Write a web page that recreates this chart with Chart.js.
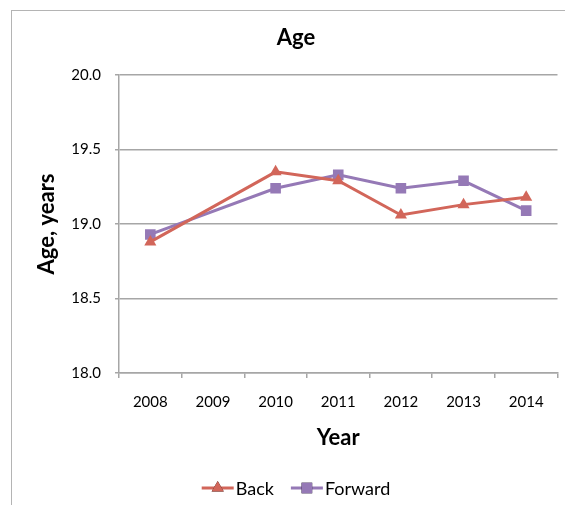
<!DOCTYPE html>
<html>
<head>
<meta charset="utf-8">
<script src="https://cdn.jsdelivr.net/npm/chart.js@4/dist/chart.umd.min.js"></script>
<style>
  html, body { margin: 0; padding: 0; background: #fff; }
  #wrap { width: 565px; height: 505px; }
</style>
</head>
<body>
<div id="wrap"><canvas id="c" width="565" height="505"></canvas></div>
<script>
// Mean age by survey year
const years = ['2008', '2009', '2010', '2011', '2012', '2013', '2014'];
const backAge = [18.88, null, 19.35, 19.29, 19.06, 19.13, 19.18];
const forwardAge = [18.93, null, 19.24, 19.33, 19.24, 19.29, 19.09];
const seriesNames = ['Back', 'Forward'];
const yTickValues = [18.0, 18.5, 19.0, 19.5, 20.0];

const chartTitle = 'Age';
const xTitle = 'Year';
const yTitle = 'Age, years';

const FONT = 'Lato, "Open Sans", sans-serif';
const BACK_COLOR = '#D2665A';
const FWD_COLOR = '#9579B6';
const GRID = '#A6A6A6';

// Frame, title and legend drawn around the plot
const decor = {
  id: 'decor',
  beforeDraw(chart) {
    const ctx = chart.ctx;
    ctx.save();
    ctx.fillStyle = '#fff';
    ctx.fillRect(0, 0, chart.width, chart.height);
    ctx.strokeStyle = '#B4B4B4';
    ctx.lineWidth = 1;
    ctx.strokeRect(11.5, 10.5, chart.width + 20, chart.height + 20);
    ctx.restore();
  },
  afterDraw(chart) {
    const ctx = chart.ctx;
    const cx = 296;
    ctx.save();
    ctx.fillStyle = '#000';
    ctx.textAlign = 'center';
    ctx.textBaseline = 'alphabetic';
    ctx.font = 'bold 22px ' + FONT;
    ctx.fillText(chartTitle, cx, 45);

    // legend: line sample with marker, then label
    ctx.font = '18px ' + FONT;
    const sampleW = 32, gapText = 2, gapItem = 17;
    const items = chart.data.datasets.map(ds => ({
      ds, w: sampleW + gapText + ctx.measureText(ds.label).width
    }));
    const total = items.reduce((s, it) => s + it.w, 0) + gapItem * (items.length - 1);
    let x = cx - total / 2;
    const y = 488;
    items.forEach(it => {
      const ds = it.ds;
      ctx.strokeStyle = ds.borderColor;
      ctx.lineWidth = 3;
      ctx.beginPath();
      ctx.moveTo(x, y);
      ctx.lineTo(x + sampleW, y);
      ctx.stroke();
      Chart.helpers.drawPoint(ctx, {
        pointStyle: ds.pointStyle,
        radius: ds.pointRadius,
        borderWidth: 0,
        rotation: 0
      }, x + sampleW / 2, y);
      ctx.fillStyle = ds.borderColor;
      ctx.fill();
      ctx.fillStyle = '#000';
      ctx.textAlign = 'left';
      ctx.fillText(ds.label, x + sampleW + gapText, 495);
      x += it.w + gapItem;
    });
    ctx.restore();
  }
};

new Chart(document.getElementById('c'), {
  type: 'line',
  data: {
    labels: years,
    datasets: [
      {
        label: seriesNames[0],
        data: backAge,
        borderColor: BACK_COLOR,
        backgroundColor: BACK_COLOR,
        borderWidth: 3,
        pointStyle: 'triangle',
        pointRadius: 7,
        pointBorderWidth: 0,
        spanGaps: true,
        tension: 0
      },
      {
        label: seriesNames[1],
        data: forwardAge,
        borderColor: FWD_COLOR,
        backgroundColor: FWD_COLOR,
        borderWidth: 3,
        pointStyle: 'rect',
        pointRadius: 7.5,
        pointBorderWidth: 0,
        spanGaps: true,
        tension: 0
      }
    ]
  },
  options: {
    responsive: false,
    animation: false,
    devicePixelRatio: 1,
    layout: { padding: { top: 75, left: 0, right: 4, bottom: 47 } },
    plugins: {
      legend: { display: false },
      title: { display: false },
      tooltip: { enabled: false }
    },
    scales: {
      x: {
        type: 'category',
        offset: true,
        grid: {
          offset: true,
          drawOnChartArea: false,
          drawTicks: true,
          tickLength: 5,
          color: GRID,
          lineWidth: 1.5
        },
        border: { color: GRID, width: 1.5 },
        ticks: {
          color: '#000',
          font: { family: FONT, size: 15 },
          padding: 15,
          maxRotation: 0
        },
        title: {
          display: true,
          text: xTitle,
          color: '#000',
          font: { family: FONT, size: 22, weight: 'bold' },
          padding: { top: 0, bottom: 7 }
        },
        afterFit(s) { s.height = 85; }
      },
      y: {
        min: 18,
        max: 20,
        afterBuildTicks(s) { s.ticks = yTickValues.map(v => ({ value: v })); },
        grid: {
          color: GRID,
          lineWidth: 1.5,
          tickLength: 4
        },
        border: { color: GRID, width: 1.5 },
        ticks: {
          color: '#000',
          font: { family: FONT, size: 15 },
          padding: 14,
          callback: v => Number(v).toFixed(1)
        },
        title: {
          display: true,
          text: yTitle,
          color: '#000',
          font: { family: FONT, size: 22, weight: 'bold' },
          padding: { top: 34, bottom: 0 }
        },
        afterFit(s) { s.width = 119; }
      }
    }
  },
  plugins: [decor]
});
</script>
</body>
</html>
